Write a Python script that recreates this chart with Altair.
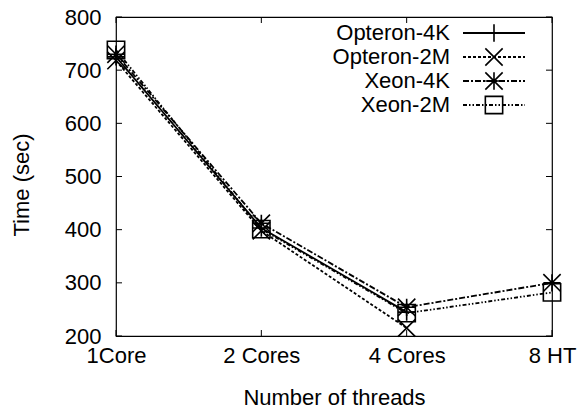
import altair as alt
import pandas as pd

# Categories on the x axis and the four measured series (seconds)
steps = ["1Core", "2 Cores", "4 Cores", "8 HT"]
series = ["Opteron-4K", "Opteron-2M", "Xeon-4K", "Xeon-2M"]
opteron_4k = [725, 403, 245]
opteron_2m = [718, 398, 215]
xeon_4k = [730, 412, 254, 300]
xeon_2m = [738, 401, 243, 282]
y_ticks = [200, 300, 400, 500, 600, 700, 800]

W, H = 436, 319
FONT = "Liberation Sans"

rows = []
for name, vals in zip(series, [opteron_4k, opteron_2m, xeon_4k, xeon_2m]):
    for i, v in enumerate(vals):
        rows.append({"series": name, "step": i, "time": v})
df = pd.DataFrame(rows)

legend_df = pd.DataFrame({"series": series, "row": list(range(len(series)))})
ytick_df = pd.DataFrame({"v": y_ticks})
xtick_df = pd.DataFrame({"step": list(range(len(steps)))})

# gnuplot-like point types as unit SVG paths
shape_scale = alt.Scale(
    domain=series,
    range=[
        "M-1,0H1M0,-1V1",
        "M-1,-1L1,1M-1,1L1,-1",
        "M-1,0H1M0,-1V1M-1,-1L1,1M-1,1L1,-1",
        "M-1,-1H1V1H-1Z",
    ],
)
dash_scale = alt.Scale(
    domain=series,
    range=[[1, 0], [3, 2], [6, 2, 2, 2], [4, 2, 1.5, 2, 1.5, 2]],
)

label_expr = "[" + ",".join("'%s'" % s for s in steps) + "][datum.value]"

x_enc = alt.X(
    "step:Q",
    scale=alt.Scale(domain=[0, len(steps) - 1], nice=False),
    axis=alt.Axis(
        values=list(range(len(steps))),
        labelExpr=label_expr,
        title="Number of threads",
        labelPadding=9,
        labelFlush=False,
        labelOverlap=False,
        titleY=61,
        titleBaseline="middle",
    ),
)
y_scale = alt.Scale(domain=[200, 800], nice=False, zero=False)
y_enc = alt.Y(
    "time:Q",
    scale=y_scale,
    axis=alt.Axis(
        values=y_ticks,
        title="Time (sec)",
        labelPadding=15,
        titleX=-95,
        titleY=H / 2 + 8,
        titleAlign="center",
        titleBaseline="middle",
    ),
)

lines = alt.Chart(df).mark_line(color="black", strokeWidth=1.8).encode(
    x=x_enc,
    y=y_enc,
    strokeDash=alt.StrokeDash("series:N", scale=dash_scale, legend=None),
)
points = alt.Chart(df).mark_point(
    color="black", filled=False, strokeWidth=1.6, size=300, opacity=1
).encode(
    x="step:Q",
    y=alt.Y("time:Q", scale=y_scale, axis=None),
    shape=alt.Shape("series:N", scale=shape_scale, legend=None),
)

# inward tick marks on all four sides
tick_y = alt.Y("v:Q", scale=y_scale, axis=None)
yticks_left = alt.Chart(ytick_df).mark_rule(color="black", strokeWidth=1).encode(
    y=tick_y, x=alt.value(0), x2=alt.value(6)
)
yticks_right = alt.Chart(ytick_df).mark_rule(color="black", strokeWidth=1).encode(
    y=tick_y, x=alt.value(W - 6), x2=alt.value(W)
)
xticks_bottom = alt.Chart(xtick_df).mark_rule(color="black", strokeWidth=1).encode(
    x="step:Q", y=alt.value(H - 6), y2=alt.value(H)
)
xticks_top = alt.Chart(xtick_df).mark_rule(color="black", strokeWidth=1).encode(
    x="step:Q", y=alt.value(0), y2=alt.value(6)
)

# key in the upper right corner
key_y = alt.Y("row:Q", scale=alt.Scale(domain=[0, 3], range=[16, 88]), axis=None)
key_text = alt.Chart(legend_df).mark_text(
    align="right", baseline="middle", fontSize=22, font=FONT, color="black"
).encode(y=key_y, x=alt.value(334), text="series:N")
key_line = alt.Chart(legend_df).mark_rule(color="black", strokeWidth=1.8).encode(
    y=key_y,
    x=alt.value(347),
    x2=alt.value(409),
    strokeDash=alt.StrokeDash("series:N", scale=dash_scale, legend=None),
)
key_point = alt.Chart(legend_df).mark_point(
    color="black", filled=False, strokeWidth=1.6, size=300, opacity=1
).encode(
    y=key_y,
    x=alt.value(378),
    shape=alt.Shape("series:N", scale=shape_scale, legend=None),
)

chart = (
    alt.layer(
        lines, points, yticks_left, yticks_right, xticks_bottom, xticks_top,
        key_text, key_line, key_point,
    )
    .resolve_scale(y="independent")
    .properties(
        width=W,
        height=H,
        autosize=alt.AutoSizeParams(type="none"),
        padding={"left": 116, "top": 17, "right": 31, "bottom": 75},
        background="white",
    )
    .configure_view(stroke="black", strokeWidth=1.2)
    .configure_axis(
        domain=False,
        ticks=False,
        grid=False,
        labelFont=FONT,
        titleFont=FONT,
        labelFontSize=22,
        titleFontSize=22,
        titleFontWeight="normal",
        labelColor="black",
        titleColor="black",
    )
)

chart.save("out.html", embed_options={"renderer": "svg", "actions": False})
